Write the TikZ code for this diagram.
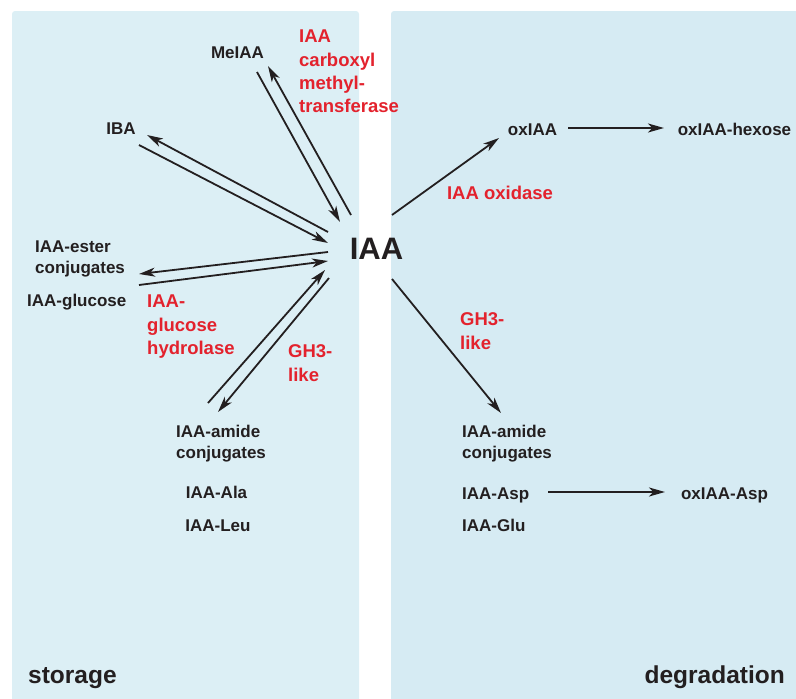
\documentclass[tikz,border=0pt]{standalone}
\usepackage{fontspec}
\setmainfont{Liberation Sans}
\usetikzlibrary{arrows.meta}
\definecolor{panelL}{HTML}{DCEFF5}
\definecolor{panelR}{HTML}{D6EBF3}
\definecolor{enz}{HTML}{E3222D}
\definecolor{ink}{HTML}{231F20}
\tikzset{
  cmp/.style={font=\fontsize{17}{21}\selectfont\bfseries, inner sep=0pt, text=ink, align=left},
  enzyme/.style={font=\fontsize{18.5}{23.3}\selectfont\bfseries, inner sep=0pt, text=enz, align=left},
  title/.style={font=\fontsize{24.5}{28}\selectfont\bfseries, inner sep=0pt, text=ink},
  conn/.style={draw=ink, line width=1.8pt, -{Stealth[length=16pt,width=9pt,inset=4.5pt]}},
  panel/.style={rounded corners=3pt}
}
\begin{document}
\begin{tikzpicture}[x=1pt,y=-1pt]
\useasboundingbox (0,0) rectangle (796,699);
% panels
\fill[panelL, panel] (12,11) rectangle (359,710);
\fill[panelR, panel] (391,11) rectangle (810,710);

% centre
\node[inner sep=0pt, font=\fontsize{31}{31}\selectfont\bfseries, text=ink, anchor=base] (IAA) at (376.5,259) {IAA};

% storage side
\node[cmp, anchor=base] (MeIAA) at (237.5,58) {MeIAA};
\node[cmp, anchor=base] (IBA) at (121,134) {IBA};
\node[cmp, anchor=north west] (ester) at (35,240.8) {IAA-ester\\conjugates};
\node[cmp, anchor=base west] (gluc) at (27,306) {IAA-glucose};
\node[cmp, anchor=north west] (amideL) at (176,424.8) {IAA-amide\\conjugates};
\node[cmp, anchor=base] (Ala) at (216.5,498) {IAA-Ala};
\node[cmp, anchor=base] (Leu) at (218,531) {IAA-Leu};
\node[title, anchor=base west] (storage) at (28,683) {storage};

\node[enzyme, anchor=north west] (cmt) at (299,29.8) {IAA\\carboxyl\\methyl-\\transferase};
\node[enzyme, anchor=north west] (hyd) at (147,294.8) {IAA-\\glucose\\hydrolase};
\node[enzyme, anchor=north west] (gh3L) at (288,344.8) {GH3-\\like};

% degradation side
\node[cmp, anchor=base] (ox) at (532.5,135) {oxIAA};
\node[cmp, anchor=base] (oxhex) at (734.5,135) {oxIAA-hexose};
\node[cmp, anchor=north west] (amideR) at (462,424.8) {IAA-amide\\conjugates};
\node[cmp, anchor=base west] (Asp) at (462,499) {IAA-Asp};
\node[cmp, anchor=base west] (Glu) at (462,531) {IAA-Glu};
\node[cmp, anchor=base] (oxAsp) at (724.5,499) {oxIAA-Asp};
\node[title, anchor=base east] (degr) at (785,683) {degradation};

\node[enzyme, anchor=base] (oxid) at (500,199) {IAA oxidase};
\node[enzyme, anchor=north west] (gh3R) at (460,312.8) {GH3-\\like};

% connector end points
\coordinate (MeA1) at (257,72);  \coordinate (IAAm1) at (340,222);
\coordinate (IAAm2) at (351,215); \coordinate (MeA2) at (268,66);
\coordinate (IAAb1) at (328,232); \coordinate (IBA1) at (147,135);
\coordinate (IBA2) at (139,145); \coordinate (IAAb2) at (328,243);
\coordinate (IAAe1) at (328,252); \coordinate (est1) at (139,274);
\coordinate (glu1) at (139,285); \coordinate (IAAe2) at (328,261);
\coordinate (amL1) at (208,403); \coordinate (IAAa1) at (325,270);
\coordinate (IAAa2) at (329,278); \coordinate (amL2) at (218,412);
\coordinate (IAAo) at (392,215); \coordinate (oxIn) at (499,138);
\coordinate (oxOut) at (568,128); \coordinate (hexIn) at (664,128);
\coordinate (IAAr) at (392,279); \coordinate (amR) at (501,413);
\coordinate (aspOut) at (548,492); \coordinate (oxAspIn) at (665,492);

% connectors
\draw[conn] (MeA1) -- (IAAm1);
\draw[conn] (IAAm2) -- (MeA2);
\draw[conn] (IAAb1) -- (IBA1);
\draw[conn] (IBA2) -- (IAAb2);
\draw[conn] (IAAe1) -- (est1);
\draw[conn] (glu1) -- (IAAe2);
\draw[conn] (amL1) -- (IAAa1);
\draw[conn] (IAAa2) -- (amL2);
\draw[conn] (IAAo) -- (oxIn);
\draw[conn] (oxOut) -- (hexIn);
\draw[conn] (IAAr) -- (amR);
\draw[conn] (aspOut) -- (oxAspIn);
\end{tikzpicture}
\end{document}
